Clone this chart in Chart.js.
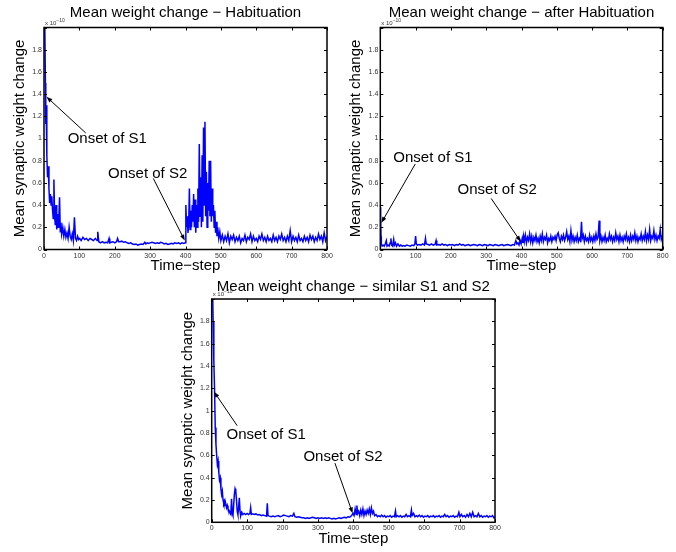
<!DOCTYPE html>
<html>
<head>
<meta charset="utf-8">
<script src="https://cdn.jsdelivr.net/npm/chart.js@4.4.1/dist/chart.umd.min.js"></script>
<style>
  body { margin: 0; background: #fff; }
  canvas { position: absolute; }
</style>
</head>
<body>
<canvas id="habit" width="338" height="276" style="left:0;top:0"></canvas>
<canvas id="after" width="338" height="276" style="left:338px;top:0"></canvas>
<canvas id="similar" width="360" height="276" style="left:160px;top:276px"></canvas>
<script>
// values are in units of 1e-10, pairs of [time-step, mean weight change]
const habitSeries = [
  [0,2.6],[2,2.1],[4,1.5],[5,1.13],[6,1.3],[8,0.85],[10,0.65],[12,0.75],[14,0.55],[16,0.42],[18,0.5],[20,0.4],
  [22,0.48],[24,0.36],[26,0.28],[28,0.63],[30,0.3],[32,0.22],[34,0.4],[36,0.18],[38,0.32],[40,0.2],[42,0.28],
  [44,0.47],[46,0.16],[48,0.24],[50,0.14],[53,0.2],[56,0.12],[59,0.18],[62,0.11],[65,0.15],[68,0.1],[71,0.2],
  [74,0.12],[77,0.09],[80,0.14],[83,0.08],[86,0.29],[89,0.1],[92,0.08],[95,0.12],[98,0.09],[101,0.1],[105,0.08],
  [110,0.11],[115,0.09],[120,0.1],[125,0.08],[130,0.1],[135,0.09],[140,0.08],[145,0.1],[150,0.08],[152,0.16],
  [155,0.07],[160,0.06],[165,0.07],[170,0.06],[175,0.065],[180,0.06],[184,0.1],[186,0.06],[190,0.065],[195,0.07],
  [200,0.06],[205,0.07],[208,0.1],[211,0.07],[215,0.07],[220,0.075],[225,0.065],[230,0.07],[235,0.06],[240,0.055],
  [245,0.06],[250,0.05],[255,0.045],[260,0.05],[265,0.04],[270,0.045],[275,0.05],[280,0.045],[285,0.065],[288,0.05],
  [292,0.06],[296,0.055],[300,0.06],[305,0.065],[310,0.06],[315,0.055],[320,0.06],[325,0.055],[330,0.065],[335,0.06],
  [340,0.05],[345,0.055],[350,0.045],[355,0.05],[360,0.055],[365,0.05],[370,0.06],[375,0.055],[380,0.06],[385,0.05],
  [390,0.06],[395,0.055],[399,0.06],
  [401,0.4],[403,0.2],[405,0.3],[407,0.15],[409,0.22],[411,0.55],[413,0.18],[415,0.35],[417,0.2],[419,0.4],[421,0.25],
  [423,0.5],[425,0.2],[427,0.45],[429,0.15],[431,0.4],[433,0.2],[435,0.55],[437,0.25],[439,0.95],[441,0.3],[443,0.65],
  [445,0.2],[447,0.85],[449,0.25],[451,1.1],[453,0.4],[455,1.15],[457,0.3],[459,0.7],[461,0.2],[463,0.6],[465,0.35],
  [467,0.8],[469,0.3],[471,0.8],[473,0.25],[475,0.55],[477,0.3],[479,0.4],[481,0.2],[483,0.35],[485,0.15],[487,0.25],
  [489,0.12],[491,0.2],[494,0.1],[497,0.16],[500,0.08],
  [504,0.13],[508,0.07],[512,0.12],[516,0.08],[520,0.14],[524,0.06],[528,0.12],[532,0.09],[536,0.13],[540,0.07],
  [544,0.11],[548,0.08],[552,0.12],[556,0.06],[560,0.1],[564,0.08],[568,0.13],[572,0.07],[576,0.11],[580,0.09],
  [584,0.14],[588,0.07],[592,0.12],[596,0.08],[600,0.1],[604,0.07],[608,0.12],[612,0.09],[616,0.14],[620,0.08],
  [624,0.11],[628,0.07],[632,0.12],[636,0.08],[640,0.1],[644,0.07],[648,0.13],[652,0.08],[656,0.11],[660,0.07],
  [664,0.12],[668,0.09],[672,0.14],[676,0.08],[680,0.11],[684,0.07],[688,0.12],[692,0.08],[696,0.17],[700,0.07],
  [704,0.12],[708,0.08],[712,0.11],[716,0.07],[720,0.13],[724,0.08],[728,0.1],[732,0.07],[736,0.12],[740,0.08],
  [744,0.11],[748,0.07],[752,0.13],[756,0.09],[760,0.12],[764,0.07],[768,0.11],[772,0.08],[776,0.14],[780,0.09],
  [784,0.12],[788,0.07],[792,0.15],[796,0.08],[800,0.12]
];

const afterSeries = [
  [0,0.38],[1,0.3],[2,0.12],[3,0.05],[5,0.03],[8,0.04],[11,0.03],[14,0.05],[17,0.08],[19,0.03],[22,0.04],[25,0.03],
  [28,0.06],[30,0.1],[32,0.04],[35,0.03],[38,0.09],[40,0.04],[43,0.06],[46,0.03],[50,0.05],[54,0.03],[58,0.04],
  [62,0.03],[66,0.035],[70,0.03],[75,0.04],[80,0.035],[85,0.03],[90,0.04],[95,0.035],[98,0.05],[100,0.12],[102,0.05],
  [105,0.04],[110,0.045],[115,0.04],[120,0.05],[125,0.04],[128,0.1],[130,0.05],[135,0.045],[140,0.04],[145,0.05],
  [150,0.04],[155,0.045],[158,0.08],[160,0.04],[165,0.045],[170,0.04],[175,0.05],[180,0.04],[185,0.045],[190,0.035],
  [195,0.045],[200,0.04],[205,0.045],[210,0.035],[215,0.045],[220,0.04],[225,0.05],[230,0.04],[235,0.045],[240,0.035],
  [245,0.04],[250,0.045],[255,0.035],[260,0.04],[265,0.045],[270,0.04],[275,0.035],[280,0.045],[285,0.04],[290,0.035],
  [295,0.045],[300,0.04],[305,0.035],[310,0.045],[315,0.04],[320,0.035],[325,0.045],[330,0.04],[335,0.035],[340,0.04],
  [345,0.045],[350,0.035],[355,0.04],[360,0.045],[365,0.04],[370,0.035],[375,0.045],[380,0.04],[384,0.08],[387,0.05],
  [390,0.06],[393,0.04],[396,0.08],[399,0.05],
  [402,0.1],[404,0.06],[406,0.12],[408,0.07],[411,0.13],[414,0.06],[417,0.11],[420,0.08],[423,0.14],[426,0.07],
  [429,0.12],[432,0.06],[435,0.11],[438,0.08],[441,0.13],[444,0.07],[447,0.1],[450,0.06],[453,0.12],[456,0.08],
  [459,0.14],[462,0.07],[465,0.11],[468,0.09],[471,0.13],[474,0.06],[477,0.1],[480,0.08],[483,0.12],[486,0.07],
  [489,0.11],[492,0.09],[495,0.12],[498,0.08],[501,0.13],[504,0.15],[507,0.1],[510,0.07],[513,0.12],[516,0.09],
  [519,0.13],[522,0.08],[525,0.11],[528,0.16],[531,0.09],[534,0.12],[537,0.07],[540,0.17],[543,0.08],[546,0.12],
  [549,0.07],[552,0.11],[555,0.08],[558,0.13],[561,0.07],[564,0.1],[567,0.08],[570,0.25],[572,0.1],[575,0.13],
  [578,0.07],[581,0.12],[584,0.08],[587,0.1],[590,0.07],[593,0.13],[596,0.08],[599,0.11],[602,0.07],[605,0.12],
  [608,0.08],[611,0.14],[614,0.09],[617,0.11],[620,0.26],[622,0.08],[625,0.12],[628,0.07],[631,0.11],[634,0.08],
  [637,0.13],[640,0.07],[643,0.1],[646,0.08],[649,0.14],[652,0.09],[655,0.12],[658,0.07],[661,0.11],[664,0.08],
  [667,0.15],[670,0.09],[673,0.12],[676,0.07],[679,0.13],[682,0.08],[685,0.11],[688,0.07],[691,0.12],[694,0.09],
  [697,0.14],[700,0.08],[703,0.11],[706,0.07],[709,0.13],[712,0.08],[715,0.12],[718,0.09],[721,0.15],[724,0.08],
  [727,0.12],[730,0.07],[733,0.11],[736,0.09],[739,0.14],[742,0.08],[745,0.12],[748,0.09],[751,0.16],[754,0.08],
  [757,0.13],[760,0.09],[763,0.18],[766,0.08],[769,0.12],[772,0.1],[775,0.17],[778,0.09],[781,0.13],[784,0.08],
  [787,0.12],[790,0.1],[793,0.18],[796,0.09],[800,0.13]
];

const similarSeries = [
  [0,2.6],[2,2.2],[4,1.8],[6,1.45],[8,1.2],[10,0.85],[12,0.7],[14,0.6],[16,0.52],[18,0.55],[20,0.45],[22,0.38],
  [24,0.4],[26,0.3],[28,0.25],[30,0.28],[32,0.2],[34,0.17],[36,0.19],[38,0.15],[40,0.16],[42,0.13],[44,0.15],
  [46,0.12],[48,0.11],[50,0.1],[52,0.08],[54,0.07],[56,0.21],[58,0.08],[60,0.06],[62,0.15],[64,0.25],[66,0.3],
  [68,0.28],[70,0.2],[72,0.1],[74,0.07],[76,0.13],[78,0.22],[80,0.1],[82,0.06],[85,0.09],[88,0.07],[92,0.08],
  [96,0.07],[100,0.08],[104,0.07],[108,0.08],[110,0.13],[112,0.07],[116,0.075],[120,0.07],[125,0.075],[130,0.065],
  [135,0.07],[140,0.06],[145,0.065],[150,0.06],[155,0.055],[157,0.17],[159,0.06],[163,0.055],[168,0.05],[173,0.055],
  [178,0.05],[183,0.055],[188,0.06],[193,0.05],[198,0.055],[203,0.065],[208,0.06],[213,0.055],[218,0.05],[223,0.06],
  [228,0.055],[232,0.08],[235,0.05],[240,0.045],[245,0.05],[250,0.045],[255,0.04],[260,0.04],[265,0.035],[270,0.04],
  [275,0.035],[280,0.04],[285,0.045],[290,0.04],[295,0.035],[300,0.04],[305,0.035],[310,0.04],[315,0.035],[320,0.04],
  [325,0.035],[330,0.04],[335,0.035],[340,0.03],[345,0.035],[350,0.03],[355,0.035],[360,0.04],[365,0.035],[370,0.04],
  [375,0.045],[380,0.04],[385,0.05],[390,0.045],[395,0.06],[399,0.08],
  [402,0.06],[405,0.12],[408,0.07],[410,0.15],[412,0.08],[415,0.1],[418,0.06],[421,0.11],[424,0.07],[427,0.12],
  [430,0.06],[433,0.1],[436,0.07],[439,0.11],[442,0.08],[445,0.12],[448,0.07],[451,0.13],[454,0.08],[457,0.1],
  [460,0.06],[464,0.07],[468,0.05],[472,0.06],[476,0.05],[480,0.065],[484,0.05],[488,0.06],[492,0.045],[496,0.055],
  [500,0.05],[504,0.06],[508,0.045],[512,0.055],[516,0.05],[519,0.1],[521,0.05],[525,0.06],[529,0.05],[533,0.06],
  [537,0.045],[541,0.055],[545,0.05],[549,0.07],[553,0.05],[557,0.06],[561,0.05],[564,0.11],[566,0.06],[570,0.08],
  [574,0.05],[578,0.06],[582,0.05],[586,0.065],[590,0.05],[594,0.06],[598,0.045],[602,0.055],[606,0.05],[610,0.06],
  [614,0.045],[618,0.055],[622,0.05],[626,0.06],[630,0.045],[634,0.055],[638,0.05],[642,0.06],[646,0.045],[650,0.055],
  [654,0.05],[658,0.07],[662,0.05],[666,0.06],[670,0.045],[674,0.055],[678,0.05],[682,0.06],[686,0.045],[690,0.055],
  [694,0.05],[698,0.09],[701,0.05],[705,0.07],[709,0.05],[713,0.06],[717,0.045],[721,0.07],[725,0.05],[729,0.08],
  [733,0.05],[737,0.09],[741,0.05],[745,0.06],[749,0.05],[753,0.08],[757,0.05],[761,0.06],[765,0.045],[769,0.055],
  [773,0.05],[777,0.06],[781,0.045],[785,0.055],[789,0.05],[793,0.06],[797,0.04],[800,0.05]
];

// "Onset of" labels: text anchor, arrow tail and arrow tip, in data units
const habitNotes = [
  { text: 'Onset of S1', at: [67, 1.0], from: [118, 1.05], to: [7, 1.376] },
  { text: 'Onset of S2', at: [181, 0.685], from: [309, 0.64], to: [398, 0.08] }
];
const afterNotes = [
  { text: 'Onset of S1', at: [37, 0.83], from: [99, 0.77], to: [3, 0.24] },
  { text: 'Onset of S2', at: [219, 0.54], from: [314, 0.46], to: [398, 0.07] }
];
const similarNotes = [
  { text: 'Onset of S1', at: [42, 0.78], from: [72, 0.865], to: [6.5, 1.17] },
  { text: 'Onset of S2', at: [259, 0.587], from: [348, 0.53], to: [398, 0.08] }
];

const FONT = "'Liberation Sans', Arial, Helvetica, sans-serif";

// box around the axes, inward ticks, the x10 exponent and the arrows
const matlabAxes = {
  id: 'matlabAxes',
  afterDatasetsDraw(chart, args, opts) {
    const { ctx, chartArea: a, scales: { x, y } } = chart;
    ctx.save();
    ctx.strokeStyle = '#000';
    ctx.lineWidth = 1.5;
    ctx.strokeRect(a.left, a.top, a.right - a.left, a.bottom - a.top);
    ctx.lineWidth = 1;
    ctx.beginPath();
    x.ticks.forEach(t => {
      const px = Math.round(x.getPixelForValue(t.value)) + 0.5;
      ctx.moveTo(px, a.bottom); ctx.lineTo(px, a.bottom - 3);
      ctx.moveTo(px, a.top); ctx.lineTo(px, a.top + 3);
    });
    y.ticks.forEach(t => {
      const py = Math.round(y.getPixelForValue(t.value)) + 0.5;
      ctx.moveTo(a.left, py); ctx.lineTo(a.left + 3, py);
      ctx.moveTo(a.right, py); ctx.lineTo(a.right - 3, py);
    });
    ctx.stroke();

    // exponent label
    ctx.fillStyle = '#333';
    ctx.textBaseline = 'alphabetic';
    ctx.textAlign = 'left';
    ctx.font = '6px ' + FONT;
    ctx.fillText('x 10', a.left + 1, a.top - 3);
    const w = ctx.measureText('x 10').width;
    ctx.font = '5px ' + FONT;
    ctx.fillText('\u221210', a.left + 1 + w, a.top - 6);

    // annotations
    ctx.fillStyle = '#000';
    ctx.strokeStyle = '#000';
    ctx.font = '15px ' + FONT;
    ctx.textBaseline = 'middle';
    (opts.notes || []).forEach(n => {
      ctx.fillText(n.text, x.getPixelForValue(n.at[0]), y.getPixelForValue(n.at[1]));
      const x0 = x.getPixelForValue(n.from[0]), y0 = y.getPixelForValue(n.from[1]);
      const x1 = x.getPixelForValue(n.to[0]), y1 = y.getPixelForValue(n.to[1]);
      const ang = Math.atan2(y1 - y0, x1 - x0);
      ctx.lineWidth = 1;
      ctx.beginPath();
      ctx.moveTo(x0, y0);
      ctx.lineTo(x1 - 4 * Math.cos(ang), y1 - 4 * Math.sin(ang));
      ctx.stroke();
      ctx.beginPath();
      ctx.moveTo(x1, y1);
      ctx.lineTo(x1 - 6 * Math.cos(ang) + 2.2 * Math.sin(ang), y1 - 6 * Math.sin(ang) - 2.2 * Math.cos(ang));
      ctx.lineTo(x1 - 6 * Math.cos(ang) - 2.2 * Math.sin(ang), y1 - 6 * Math.sin(ang) + 2.2 * Math.cos(ang));
      ctx.closePath();
      ctx.fill();
    });
    ctx.restore();
  }
};

function yTickLabel(v) {
  if (v >= 1.99) return '';
  return String(Math.round(v * 10) / 10);
}

function makeChart(id, title, series, notes, box) {
  return new Chart(document.getElementById(id), {
    type: 'line',
    data: {
      datasets: [{
        data: series.map(p => ({ x: p[0], y: p[1] })),
        borderColor: '#0000ff',
        borderWidth: 1.5,
        pointRadius: 0,
        tension: 0,
        fill: false
      }]
    },
    options: {
      responsive: false,
      animation: false,
      devicePixelRatio: 1,
      layout: { padding: { left: 0, right: box.right, top: 0, bottom: 0 } },
      plugins: {
        legend: { display: false },
        tooltip: { enabled: false },
        title: {
          display: true,
          text: title,
          fullSize: false,
          color: '#000',
          font: { family: FONT, size: 15, weight: 'normal' },
          padding: { top: box.titleTop, bottom: box.titleBottom }
        },
        matlabAxes: { notes: notes }
      },
      scales: {
        x: {
          type: 'linear',
          min: 0,
          max: 800,
          grid: { display: false, drawTicks: false },
          border: { display: false },
          ticks: { stepSize: 100, padding: 2, color: '#333', font: { family: FONT, size: 7 } },
          title: {
            display: true,
            text: 'Time\u2212step',
            color: '#000',
            font: { family: FONT, size: 15 },
            padding: { top: 0, bottom: box.xTitleBottom }
          },
          afterFit: s => { s.height = box.xHeight; }
        },
        y: {
          type: 'linear',
          min: 0,
          max: 2,
          grid: { display: false, drawTicks: false },
          border: { display: false },
          ticks: {
            stepSize: 0.2,
            padding: 2,
            color: '#333',
            font: { family: FONT, size: 7 },
            callback: yTickLabel
          },
          title: {
            display: true,
            text: 'Mean synaptic weight change',
            color: '#000',
            font: { family: FONT, size: 15 },
            padding: { top: box.yTitleLeft, bottom: 0 }
          },
          afterFit: s => { s.width = box.yWidth; }
        }
      }
    },
    plugins: [matlabAxes]
  });
}

makeChart('habit', 'Mean weight change \u2212 Habituation', habitSeries, habitNotes,
  { right: 11, yWidth: 44, xHeight: 26.5, titleTop: 4, titleBottom: 5.5, yTitleLeft: 10.5, xTitleBottom: 1.5 });
makeChart('after', 'Mean weight change \u2212 after Habituation', afterSeries, afterNotes,
  { right: 13.3, yWidth: 42.3, xHeight: 26.5, titleTop: 4, titleBottom: 5.5, yTitleLeft: 8.7, xTitleBottom: 1.5 });
makeChart('similar', 'Mean weight change \u2212 similar S1 and S2', similarSeries, similarNotes,
  { right: 25, yWidth: 51.7, xHeight: 29.7, titleTop: 2, titleBottom: 3, yTitleLeft: 19.3, xTitleBottom: 4.5 });
</script>
</body>
</html>
